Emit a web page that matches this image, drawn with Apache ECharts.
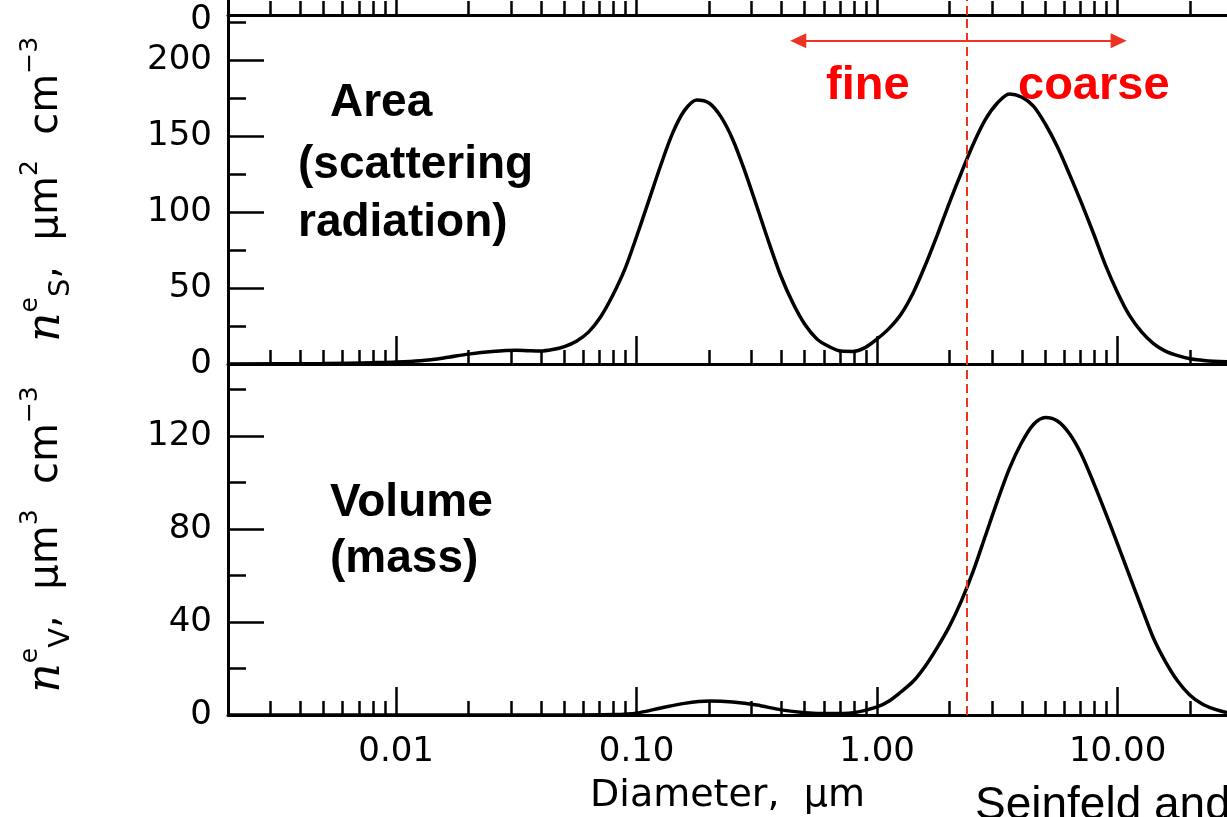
<!DOCTYPE html>
<html><head><meta charset="utf-8">
<script src="https://cdn.jsdelivr.net/npm/echarts@6/dist/echarts.min.js"></script>
<style>html,body{margin:0;padding:0;background:#fff}#c{width:1227px;height:817px}</style>
</head><body><div id="c"></div>
<script>
// ---- data (diameter in µm) ----
const areaDiameter = [0.002, 0.005, 0.008, 0.01, 0.0126, 0.0158, 0.02, 0.0251, 0.0316, 0.0355, 0.0398, 0.0447, 0.0501, 0.0562, 0.0631, 0.0708, 0.0794, 0.0891,
  0.1, 0.112, 0.126, 0.141, 0.158, 0.178, 0.2, 0.224, 0.251, 0.282, 0.316, 0.355, 0.398, 0.447, 0.501, 0.562, 0.631, 0.708, 0.794, 0.891,
  1.0, 1.122, 1.259, 1.413, 1.585, 1.778, 1.995, 2.239, 2.512, 2.818, 3.162, 3.548, 3.981, 4.467, 5.012, 5.623, 6.31, 7.08, 7.94, 8.91,
  10.0, 11.2, 12.6, 14.1, 15.8, 17.8, 20.0, 22.4, 25.1, 28.5];
const areaValues = [0, 0.3, 0.9, 1.3, 2.2, 4, 6.5, 8.2, 9, 8.7, 8.5, 9.5, 11.5, 15, 21, 31, 45, 62,
  84, 107, 131, 152, 167, 174, 172, 163, 148, 127, 104, 80, 58, 40, 26, 16.5, 11.5, 8.5, 8.3, 10.8,
  16.5, 23.5, 33, 47, 65, 85, 106, 126, 145, 161, 172, 178, 176, 170, 158, 143, 125, 106, 86, 65,
  47, 32, 21, 13.5, 8.5, 5.5, 3.5, 2.5, 1.8, 1.5];
const volumeDiameter = [0.002, 0.05, 0.08, 0.1, 0.126, 0.158, 0.2, 0.251, 0.316, 0.398, 0.501, 0.631, 0.794,
  1.0, 1.122, 1.259, 1.413, 1.585, 1.778, 1.995, 2.239, 2.512, 2.818, 3.162, 3.548, 3.981, 4.467, 5.012, 5.623, 6.31, 7.08, 7.94, 8.91,
  10.0, 11.2, 12.6, 14.1, 15.8, 17.8, 20.0, 22.4, 25.1, 28.5];
const volumeValues = [0, 0, 0.2, 0.8, 3, 5, 6, 5.6, 4.3, 2.2, 1, 0.6, 1,
  3.5, 6, 10, 14.5, 21, 29, 38, 49, 62, 77, 92, 106, 117, 125, 128, 126.5, 121, 112, 100, 87,
  73.5, 60, 46, 33, 23, 14.5, 8.5, 4.8, 2.6, 1];

const xMajorTicks = [0.01, 0.1, 1, 10];
const xTickLabels = ['0.01', '0.10', '1.00', '10.00'];
const xMinorTicks = [0.003, 0.004, 0.005, 0.006, 0.007, 0.008, 0.009,
                     0.02, 0.03, 0.04, 0.05, 0.06, 0.07, 0.08, 0.09,
                     0.2, 0.3, 0.4, 0.5, 0.6, 0.7, 0.8, 0.9,
                     2, 3, 4, 5, 6, 7, 8, 9, 20];
const areaMajorTicks = [0, 50, 100, 150, 200];
const areaMinorTicks = [25, 75, 125, 175, 225];
const volumeMajorTicks = [0, 40, 80, 120];
const volumeMinorTicks = [20, 60, 100, 140];
const fineCoarseCut = 2.35;       // µm, red dashed boundary
const arrowSpan = [0.47, 10.1];   // µm, ends of the red double arrow
const arrowLevel = 213;           // area-panel units

const X_MIN = 0.002, X_MAX = 28.5;
const AREA_MAX = 230, VOLUME_MAX = 151;

// ---- chart ----
const RED = '#ee3322';
const axisStroke = { color: '#000', width: 3 };
const tickStroke = { color: '#000', width: 2.5 };
const labelFont = { fontFamily: '"DejaVu Sans"', fontSize: 34, color: '#000' };

function xAxesFor(gridIndex, withLabels) {
  return [
    { type: 'log', gridIndex, position: 'bottom', min: X_MIN, max: X_MAX,
      axisLine: { show: true, onZero: false, lineStyle: axisStroke },
      axisTick: { show: true, inside: true, length: 14, customValues: xMinorTicks, lineStyle: tickStroke },
      axisLabel: { show: false }, splitLine: { show: false }, minorTick: { show: false } },
    { type: 'log', gridIndex, position: 'bottom', min: X_MIN, max: X_MAX,
      axisLine: { show: false, onZero: false },
      axisTick: { show: true, inside: true, length: 28, customValues: xMajorTicks, lineStyle: tickStroke },
      axisLabel: withLabels ? Object.assign({ show: true, margin: 20, customValues: xMajorTicks,
        formatter: v => xTickLabels[xMajorTicks.findIndex(t => Math.abs(t - v) / t < 1e-6)] }, labelFont)
        : { show: false },
      splitLine: { show: false },
      name: withLabels ? 'Diameter,  μm' : '', nameLocation: 'middle', nameGap: 62,
      nameTextStyle: { fontFamily: '"DejaVu Sans"', fontSize: 38, color: '#000' } }
  ];
}

function yAxesFor(gridIndex, max, major, minor, nameRich, labelExtra) {
  return [
    { type: 'value', gridIndex, position: 'left', min: 0, max,
      axisLine: { show: true, onZero: false, lineStyle: axisStroke },
      axisTick: { show: minor.length > 0, inside: true, length: 18, customValues: minor, lineStyle: tickStroke },
      axisLabel: { show: false }, splitLine: { show: false } },
    { type: 'value', gridIndex, position: 'left', min: 0, max,
      axisLine: { show: false, onZero: false },
      axisTick: { show: major.length > 1, inside: true, length: 36, customValues: major, lineStyle: tickStroke },
      axisLabel: Object.assign({ show: true, margin: 16, customValues: major }, labelFont, labelExtra || {}),
      splitLine: { show: false },
      name: nameRich || '', nameLocation: 'middle', nameRotate: 90, nameGap: 152,
      nameTextStyle: {
        fontFamily: '"DejaVu Sans"', fontSize: 40, color: '#000',
        rich: {
          n: { fontFamily: '"DejaVu Serif"', fontStyle: 'italic', fontSize: 46, color: '#000', lineHeight: 58 },
          sup: { fontFamily: '"DejaVu Sans"', fontSize: 25, color: '#000', verticalAlign: 'top', lineHeight: 58 },
          sub: { fontFamily: '"DejaVu Sans"', fontSize: 29, color: '#000', verticalAlign: 'bottom', lineHeight: 58 },
          t: { fontFamily: '"DejaVu Sans"', fontSize: 40, color: '#000', lineHeight: 58 }
        }
      } }
  ];
}

const cutLine = {
  silent: true, symbol: 'none', label: { show: false },
  lineStyle: { color: RED, width: 2, type: [9, 5] },
  data: [{ xAxis: fineCoarseCut }]
};

const gridBase = { left: 228, right: 0, containLabel: false, outerBoundsMode: 'none' };

const option = {
  animation: false,
  backgroundColor: '#fff',
  grid: [
    Object.assign({ top: -300, bottom: 802 }, gridBase),   // panel above (cut off)
    Object.assign({ top: 15, bottom: 453 }, gridBase),     // area
    Object.assign({ top: 364, bottom: 102 }, gridBase)     // volume
  ],
  xAxis: [...xAxesFor(0, false), ...xAxesFor(1, false), ...xAxesFor(2, true)],
  yAxis: [
    ...yAxesFor(0, 1000, [0], [], '', { verticalAlign: 'top', lineHeight: 10 }),
    ...yAxesFor(1, AREA_MAX, areaMajorTicks, areaMinorTicks,
      '{n|n}{sup|e}{sub|S}{t|,  μm}{sup|2}{t|  cm}{sup|−3}'),
    ...yAxesFor(2, VOLUME_MAX, volumeMajorTicks, volumeMinorTicks,
      '{n|n}{sup|e}{sub|V}{t|,  μm}{sup|3}{t|  cm}{sup|−3}')
  ],
  series: [
    { type: 'line', xAxisIndex: 0, yAxisIndex: 0, data: [], markLine: cutLine },
    { type: 'line', name: 'Area', xAxisIndex: 2, yAxisIndex: 2,
      data: areaDiameter.map((d, i) => [d, areaValues[i]]),
      smooth: 0.3, showSymbol: false, symbol: 'none',
      lineStyle: { color: '#000', width: 3.5 },
      markLine: cutLine },
    { type: 'line', xAxisIndex: 2, yAxisIndex: 2, data: [],
      markLine: {
        silent: true, symbol: ['triangle', 'triangle'], symbolSize: [15, 16],
        label: { show: false },
        lineStyle: { color: RED, width: 2, type: 'solid' },
        data: [[{ coord: [arrowSpan[0], arrowLevel] }, { coord: [arrowSpan[1], arrowLevel] }]]
      } },
    { type: 'line', name: 'Volume', xAxisIndex: 4, yAxisIndex: 4,
      data: volumeDiameter.map((d, i) => [d, volumeValues[i]]),
      smooth: 0.3, showSymbol: false, symbol: 'none',
      lineStyle: { color: '#000', width: 3.5 },
      markLine: cutLine }
  ],
  graphic: [
    { type: 'text', left: 330, top: 80, style: { text: 'Area', font: 'bold 46px "Liberation Sans"', fill: '#000' } },
    { type: 'text', left: 298, top: 136, style: { text: '(scattering\nradiation)', font: 'bold 46px "Liberation Sans"', lineHeight: 58, fill: '#000' } },
    { type: 'text', left: 330, top: 475, style: { text: 'Volume\n(mass)', font: 'bold 46px "Liberation Sans"', lineHeight: 56, fill: '#000' } },
    { type: 'text', left: 826, top: 63, style: { text: 'fine', font: 'bold 47px "Liberation Sans"', fill: '#ff0000' } },
    { type: 'text', left: 1018, top: 63, style: { text: 'coarse', font: 'bold 47px "Liberation Sans"', fill: '#ff0000' } },
    { type: 'text', left: 975, top: 783, style: { text: 'Seinfeld and Pandis', font: '46px "Liberation Sans"', fill: '#000' } }
  ]
};

const chart = echarts.init(document.getElementById('c'), null, { renderer: 'canvas' });
chart.setOption(option);
</script>
</body></html>
